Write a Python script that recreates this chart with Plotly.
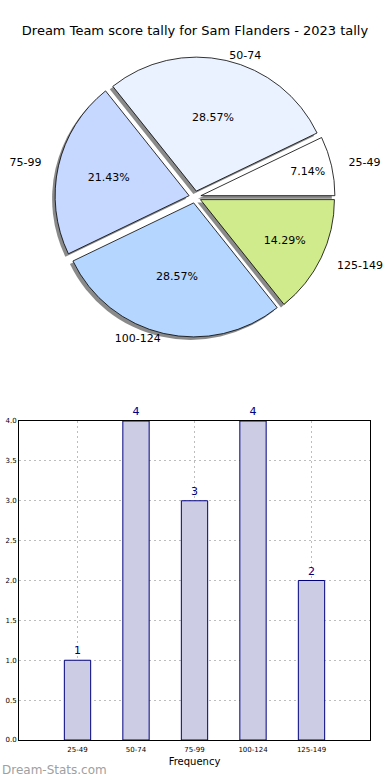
import plotly.graph_objects as go

title = "Dream Team score tally for Sam Flanders - 2023 tally"
categories = ["25-49", "50-74", "75-99", "100-124", "125-149"]
counts = [1, 4, 3, 4, 2]
pie_colors = ["#FFFFFF", "#EAF1FF", "#C6D8FF", "#B4D6FF", "#D0EB8C"]
bar_fill = "#CCCCE5"
bar_edge = "#000080"
watermark = "Dream-Stats.com"
x_title = "Frequency"

W, H = 390, 780
FONT = "DejaVu Sans"

# pie geometry (pixels)
cx, cy, r, pull = 195, 197.0, 134, 0.045


def pie_domain(radius, p, dx=0.0, dy=0.0):
    box = 2 * radius * (1 + p)
    return dict(
        x=[(cx + dx - box / 2) / W, (cx + dx + box / 2) / W],
        y=[1 - (cy + dy + box / 2) / H, 1 - (cy + dy - box / 2) / H],
    )


# first slice starts at 3 o'clock and slices go counterclockwise
rot = 90 - 360 * counts[0] / sum(counts)
n = len(counts)

fig = go.Figure()

# shadow
fig.add_trace(go.Pie(
    labels=categories, values=counts, sort=False, direction="counterclockwise",
    rotation=rot, pull=[pull] * n, domain=pie_domain(r, pull, -3, 3),
    marker=dict(colors=["rgba(60,60,60,0.6)"] * n, line=dict(width=0)),
    textinfo="none", showlegend=False, hoverinfo="skip", automargin=False,
))

# main pie
fig.add_trace(go.Pie(
    labels=categories, values=counts, sort=False, direction="counterclockwise",
    rotation=rot, pull=[pull] * n, domain=pie_domain(r, pull),
    marker=dict(colors=pie_colors, line=dict(color="black", width=0.8)),
    texttemplate="%{percent:.2%}", textposition="inside",
    insidetextorientation="horizontal",
    textfont=dict(family=FONT, size=11, color="black"),
    showlegend=False, hoverinfo="skip", automargin=False,
))

# invisible pies carrying the outside category labels
# (side labels sit further out than top/bottom ones, as in the elliptical original)
side = [True, False, True, False, True]
for rl, keep in ((r + 14, True), (r - 1, False)):
    p_l = pull * r / rl
    fig.add_trace(go.Pie(
        labels=categories, values=counts, sort=False, direction="counterclockwise",
        rotation=rot, pull=[p_l] * n, domain=pie_domain(rl, p_l),
        marker=dict(colors=["rgba(0,0,0,0)"] * n, line=dict(width=0)),
        text=[c if s == keep else "" for c, s in zip(categories, side)],
        texttemplate="%{text}", textposition="outside",
        textfont=dict(family=FONT, size=11, color="black"),
        showlegend=False, hoverinfo="skip", automargin=False,
    ))

# bar chart
fig.add_trace(go.Bar(
    x=categories, y=counts, width=0.45,
    marker=dict(color=bar_fill, line=dict(color=bar_edge, width=1)),
    text=[str(c) for c in counts], textposition="outside",
    textfont=dict(family=FONT, size=11, color=bar_edge),
    cliponaxis=False, showlegend=False, hoverinfo="skip",
    xaxis="x", yaxis="y",
))

grid = dict(showgrid=True, gridcolor="#BDBDBD", griddash="2px,3px", gridwidth=1)

fig.update_layout(
    width=W, height=H, autosize=False,
    margin=dict(l=0, r=0, t=0, b=0, autoexpand=False),
    paper_bgcolor="white", plot_bgcolor="white",
    font=dict(family=FONT, color="black"),
    title=dict(text=title, x=0.5, xanchor="center", y=1 - 30 / H, yanchor="middle",
               font=dict(family=FONT, size=13, color="black")),
    xaxis=dict(
        domain=[19 / W, 370 / W], anchor="y", type="category", range=[-1, 5],
        automargin=False,
        showline=True, linecolor="black", linewidth=1, mirror=True, **grid,
        ticks="", tickfont=dict(family=FONT, size=7, color="black"),
        ticklabelstandoff=3,
        title=dict(text=x_title, font=dict(family=FONT, size=10, color="black"), standoff=4),
        fixedrange=True,
    ),
    yaxis=dict(
        domain=[1 - 740 / H, 1 - 421 / H], anchor="x", range=[0, 4], dtick=0.5,
        automargin=False,
        tickformat=".1f", showline=True, linecolor="black", linewidth=1, mirror=True, **grid,
        ticks="", tickfont=dict(family=FONT, size=7, color="black"), zeroline=False,
        fixedrange=True,
    ),
    annotations=[dict(
        text=watermark, x=0, y=1 - 770 / H, xref="paper", yref="paper",
        xanchor="left", yanchor="middle", showarrow=False,
        font=dict(family=FONT, size=12, color="#A0A0A0"),
    )],
)

fig.write_html(
    "out.html",
    config={"displayModeBar": False, "staticPlot": True},
    post_script="document.body.style.margin='0';document.body.style.padding='0';",
)
